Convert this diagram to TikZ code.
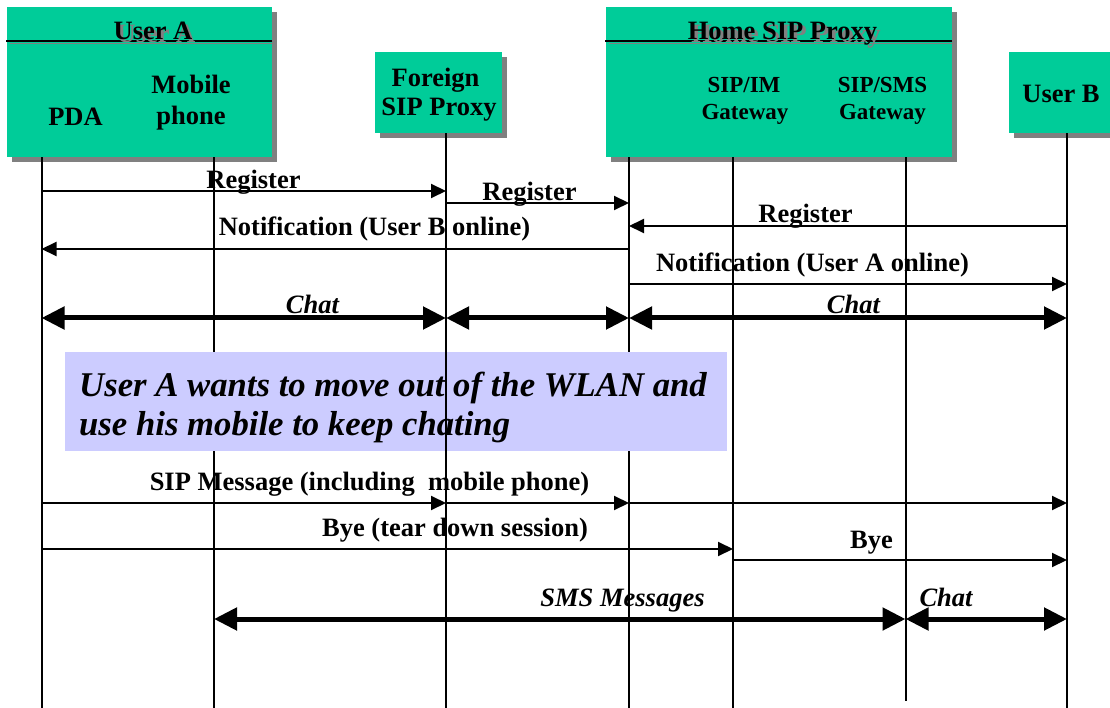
\documentclass[tikz,border=0pt]{standalone}
\usepackage{fontspec}
\setmainfont{Liberation Serif}
\usetikzlibrary{arrows.meta,shadows}
\definecolor{boxgreen}{RGB}{0,204,153}
\definecolor{shadowgray}{RGB}{128,128,128}
\definecolor{notebg}{RGB}{204,204,255}
\tikzset{
  actorbox/.style={fill=boxgreen, draw=none, inner sep=0pt, anchor=north west,
    drop shadow={shadow xshift=5pt, shadow yshift=-5pt, fill=shadowgray, opacity=1}},
  lifeline/.style={line width=2pt},
  msg/.style={line width=2pt, -{Triangle[length=15pt,width=14pt]}},
  chatarrow/.style={line width=5pt, {Triangle[length=23pt,width=22pt]}-{Triangle[length=23pt,width=22pt]}},
  lbl/.style={font=\fontsize{26.5}{30}\selectfont\bfseries, inner sep=0pt, anchor=base},
  ilbl/.style={font=\fontsize{26.5}{30}\selectfont\bfseries\itshape, inner sep=0pt, anchor=base},
  boxtxt/.style={font=\fontsize{26.5}{31}\selectfont\bfseries, inner sep=0pt, anchor=base},
  gwtxt/.style={font=\fontsize{23}{27}\selectfont\bfseries, inner sep=0pt, anchor=base},
  notetxt/.style={font=\fontsize{34.7}{39}\selectfont\bfseries\itshape, inner sep=0pt, anchor=base west},
}
\begin{document}
\begin{tikzpicture}[x=1pt,y=-1pt]
\useasboundingbox (0,0) rectangle (1110,708);
% ---- actor boxes ----
\node[actorbox, minimum width=265pt, minimum height=150pt] (ua) at (7,7) {};
\node[actorbox, minimum width=127pt, minimum height=81pt] (fp) at (375,52) {};
\node[actorbox, minimum width=346pt, minimum height=150pt] (hp) at (606,7) {};
\node[actorbox, minimum width=110pt, minimum height=81pt] (ubx) at (1009,52) {};
% title separator lines
\draw[shadowgray, line width=1pt] (10,44) -- (275,44);
\draw[line width=2pt] (6,41) -- (272,41);
\draw[shadowgray, line width=1pt] (609,44) -- (955,44);
\draw[line width=2pt] (605,41) -- (952,41);
% box texts
\node[boxtxt, text=shadowgray] (uat2) at (156,43) {User A};
\node[boxtxt] (uat) at (153,40) {User A};
\node[boxtxt] (pdat) at (75.5,126) {PDA};
\node[boxtxt] (mob1) at (191,94) {Mobile};
\node[boxtxt] (mob2) at (191,125) {phone};
\node[boxtxt] (fp1) at (435.5,87) {Foreign};
\node[boxtxt] (fp2) at (439,116) {SIP Proxy};
\node[boxtxt, text=shadowgray] (hpt2) at (786,43) {Home SIP Proxy};
\node[boxtxt] (hpt) at (782.5,40) {Home SIP Proxy};
\node[gwtxt] (im1) at (744,93) {SIP/IM};
\node[gwtxt] (im2) at (745,120) {Gateway};
\node[gwtxt] (sms1) at (882.5,93) {SIP/SMS};
\node[gwtxt] (sms2) at (882.5,120) {Gateway};
\node[boxtxt] (ubt) at (1061,103) {User B};
% ---- lifeline positions ----
\coordinate (pda) at (41.5,0);
\coordinate (mob) at (214,0);
\coordinate (fsp) at (446,0);
\coordinate (hsp) at (629,0);
\coordinate (im) at (733,0);
\coordinate (sms) at (905.5,0);
\coordinate (ub) at (1067,0);
\coordinate (bot) at (0,708);
\coordinate (smsend) at (0,701);
% ---- lifelines ----
\draw[lifeline] (ua.south -| pda) -- (pda |- bot);
\draw[lifeline] (ua.south -| mob) -- (mob |- bot);
\draw[lifeline] (hp.south -| hsp) -- (hsp |- bot);
\draw[lifeline] (hp.south -| im) -- (im |- bot);
\draw[lifeline] (hp.south -| sms) -- (sms |- smsend);
\draw[lifeline] (ubx.south -| ub) -- (ub |- bot);
% ---- note ----
\node[fill=notebg, draw=none, inner sep=0pt, anchor=north west, minimum width=662pt, minimum height=99pt] (note) at (65,352) {};
\node[notetxt] (n1) at (79,396) {User A wants to move out of the WLAN and};
\node[notetxt] (n2) at (79,435) {use his mobile to keep chating};
\draw[lifeline] (fp.south -| fsp) -- (fsp |- bot);
% ---- message rows ----
\coordinate (r1) at (0,191);
\coordinate (r2) at (0,203);
\coordinate (r3) at (0,226);
\coordinate (r4) at (0,249);
\coordinate (r5) at (0,284);
\coordinate (r6) at (0,318);
\coordinate (r7) at (0,503);
\coordinate (r8) at (0,549);
\coordinate (r9) at (0,560);
\coordinate (r10) at (0,619);
% ---- messages ----
\draw[msg] (pda |- r1) -- (fsp |- r1);
\node[lbl] (l1) at (253.5,189) {Register};
\draw[msg] (fsp |- r2) -- (hsp |- r2);
\node[lbl] (l2) at (529.5,201) {Register};
\draw[msg] (ub |- r3) -- (hsp |- r3);
\node[lbl] (l3) at (805.5,223) {Register};
\draw[msg] (hsp |- r4) -- (pda |- r4);
\node[lbl] (l4) at (374.5,236) {Notification (User B online)};
\draw[msg] (hsp |- r5) -- (ub |- r5);
\node[lbl] (l5) at (812.5,272) {Notification (User A online)};
\draw[chatarrow] (pda |- r6) -- (fsp |- r6);
\draw[chatarrow] (fsp |- r6) -- (hsp |- r6);
\draw[chatarrow] (hsp |- r6) -- (ub |- r6);
\node[ilbl] (l6) at (312.5,314) {Chat};
\node[ilbl] (l7) at (853.5,314) {Chat};
\draw[msg] (pda |- r7) -- (fsp |- r7);
\draw[msg] (fsp |- r7) -- (hsp |- r7);
\draw[msg] (hsp |- r7) -- (ub |- r7);
\node[lbl] (l8) at (369.5,490) {SIP Message (including\hspace{0.25em} mobile phone)};
\draw[msg] (pda |- r8) -- (im |- r8);
\node[lbl] (l9) at (455,536) {Bye (tear down session)};
\draw[msg] (im |- r9) -- (ub |- r9);
\node[lbl] (l10) at (871.5,548) {Bye};
\draw[chatarrow] (mob |- r10) -- (sms |- r10);
\draw[chatarrow] (sms |- r10) -- (ub |- r10);
\node[ilbl] (l11) at (622.5,606) {SMS Messages};
\node[ilbl] (l12) at (946,606) {Chat};
\end{tikzpicture}
\end{document}
